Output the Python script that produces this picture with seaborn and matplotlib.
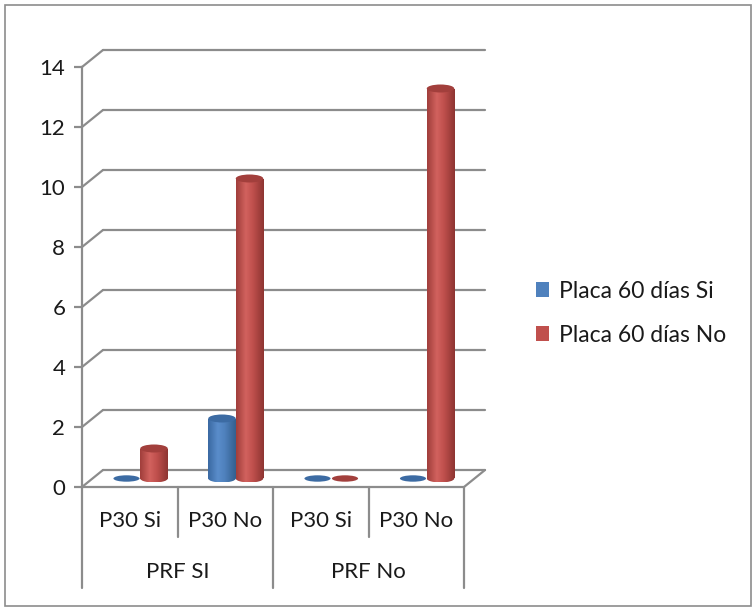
import matplotlib
matplotlib.use("Agg")
import matplotlib.pyplot as plt
import matplotlib.transforms as mtransforms
from matplotlib.colors import LinearSegmentedColormap
from matplotlib.patches import Ellipse, Patch, Rectangle
import numpy as np
import pandas as pd
import seaborn as sns

# chart data
prf_labels = ["PRF SI", "PRF No"]
p30_labels = ["P30 Si", "P30 No", "P30 Si", "P30 No"]
series = ["Placa 60 días Si", "Placa 60 días No"]
placa_si = [0, 2, 0, 0]
placa_no = [1, 10, 0, 13]
yticks = [0, 2, 4, 6, 8, 10, 12, 14]
colors = ["#4F81BD", "#C0504D"]
tops = ["#3C6BA3", "#A23F3C"]
shades = [["#3A69A2", "#5A8DCB", "#4F81BD", "#33608F"],
          ["#A03E3B", "#D2625E", "#C0504D", "#8E3532"]]

cats = [f"c{i}" for i in range(len(p30_labels))]
df = pd.DataFrame({
    "cat": cats * 2,
    "serie": [series[0]] * 4 + [series[1]] * 4,
    "value": placa_si + placa_no,
})

sns.set_theme(style="white")
plt.rcParams["font.family"] = ["Lato", "DejaVu Sans"]
txt_c = "#1A1A1A"

W, H, DPI = 755, 609, 100
fig = plt.figure(figsize=(W / DPI, H / DPI), dpi=DPI)
ax = fig.add_axes([82 / W, 1 - 487 / H, (464 - 82) / W, (487 - 67) / H])

sns.barplot(data=df, x="cat", y="value", hue="serie", order=cats,
            hue_order=series, palette=colors, width=0.576, gap=0,
            saturation=1, legend=False, ax=ax)

# depth offset of the 3D look (pixels)
dxp, dyp = 21, 17
px_x = (464 - 82) / 4.0
px_y = (487 - 67) / 14.0
dx, dy = dxp / px_x, dyp / px_y
grid_c = "#8C8C8C"

# back wall gridlines and left wall diagonals
for v in yticks:
    ax.plot([-0.5 + dx, 3.5 + dx], [v + dy, v + dy], color=grid_c, lw=1.6,
            clip_on=False, zorder=0.5)
    ax.plot([-0.5, -0.5 + dx], [v, v + dy], color=grid_c, lw=1.6,
            clip_on=False, zorder=0.5)
# floor
ax.plot([-0.5, 3.5, 3.5 + dx], [0, 0, dy], color=grid_c, lw=1.6,
        clip_on=False, zorder=0.6)

# cylinders: move bars to mid depth, shade them and add ellipses
shift = mtransforms.ScaledTranslation(dxp / 2 / DPI, dyp / 2 / DPI,
                                      fig.dpi_scale_trans)
tr = ax.transData + shift
ell_h = 8 / px_y
grad = np.linspace(0, 1, 64).reshape(1, -1)
for p in list(ax.patches):
    p.set_transform(tr)
    p.set_zorder(2)
    p.set_edgecolor("none")
    p.set_clip_on(False)
    x0 = p.get_x() + p.get_width() / 2
    w = p.get_width()
    h = p.get_height()
    ci = 0 if p.get_facecolor()[2] > 0.6 else 1
    if h > 0:
        cmap = LinearSegmentedColormap.from_list(
            "cyl", list(zip([0, 0.35, 0.6, 1], shades[ci])))
        body = ax.imshow(grad, cmap=cmap, aspect="auto", zorder=2.1,
                         extent=(p.get_x(), p.get_x() + w, 0, h),
                         transform=tr, interpolation="bicubic")
        body.set_clip_path(p)
        # rounded base
        base = Ellipse((x0, 0), w, ell_h, transform=tr, visible=False)
        ax.add_patch(base)
        foot = ax.imshow(grad, cmap=cmap, aspect="auto", zorder=2.05,
                         extent=(p.get_x(), p.get_x() + w, -ell_h / 2, 0.01),
                         transform=tr, interpolation="bicubic")
        foot.set_clip_path(base)
        # top cap
        ax.add_patch(Ellipse((x0, h), w, ell_h, facecolor=tops[ci],
                             edgecolor="none", transform=tr, zorder=3,
                             clip_on=False))
    else:
        ax.add_patch(Ellipse((x0, 0), w * 0.95, ell_h * 0.8,
                             facecolor=tops[ci], edgecolor="none",
                             transform=tr, zorder=3, clip_on=False))
ax.set_xlim(-0.5, 3.5)
ax.set_ylim(0, 14)

# axes styling
for s in ["top", "right", "bottom"]:
    ax.spines[s].set_visible(False)
ax.spines["left"].set_color(grid_c)
ax.spines["left"].set_linewidth(1.6)
ax.set_yticks(yticks)
ax.tick_params(axis="y", left=True, length=6, width=1.6, color=grid_c,
               labelsize=16, labelcolor=txt_c, pad=6)
ax.set_xticks([])
ax.set_xlabel("")
ax.set_ylabel("")

# two-level category axis
blend = mtransforms.blended_transform_factory(ax.transData, ax.transAxes)
for i, lab in enumerate(p30_labels):
    ax.text(i, -34 / (487 - 67), lab, transform=blend, ha="center",
            va="center", fontsize=16, color=txt_c)
for j, lab in enumerate(prf_labels):
    ax.text(2 * j + 0.5, -85 / (487 - 67), lab, transform=blend, ha="center",
            va="center", fontsize=16, color=txt_c)
for xv, depth in [(-0.5, 101), (0.5, 50), (1.5, 101), (2.5, 50), (3.5, 101)]:
    ax.plot([xv, xv], [0, -depth / (487 - 67)], transform=blend,
            color=grid_c, lw=1.6, clip_on=False)

# legend
handles = [Patch(facecolor=c, edgecolor="none", label=s)
           for c, s in zip(colors, series)]
fig.legend(handles=handles, loc="upper left",
           bbox_to_anchor=(515 / W, 1 - 260 / H), frameon=False,
           fontsize=16.5, handlelength=0.6, handleheight=0.6,
           handletextpad=0.4, labelspacing=1.0, labelcolor=txt_c)

# chart border
fig.add_artist(Rectangle((5 / W, 3 / H), (751 - 5) / W, (604 - 3) / H,
                         transform=fig.transFigure, fill=False,
                         edgecolor="#8C8C8C", lw=1.2))

fig.savefig("out.png", dpi=DPI)
